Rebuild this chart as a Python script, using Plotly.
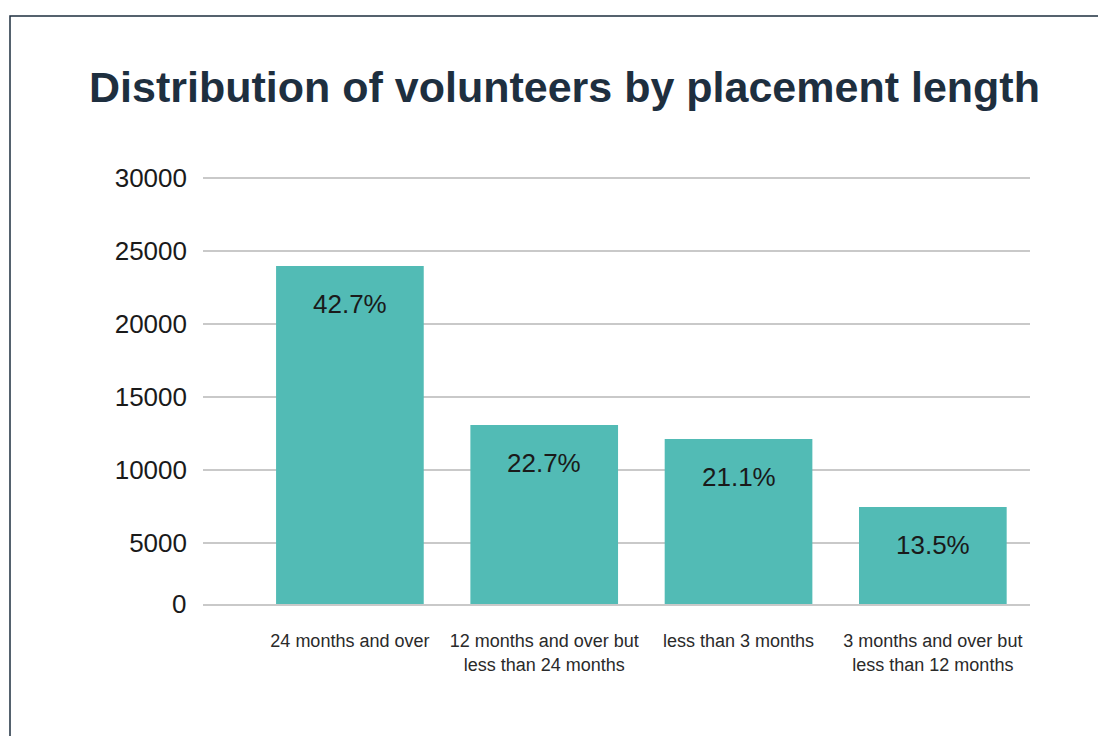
import plotly.graph_objects as go

categories = ["24 months and over",
              "12 months and over but<br>less than 24 months",
              "less than 3 months",
              "3 months and over but<br>less than 12 months"]
values = [23970, 13080, 12120, 7470]
pct_labels = ["42.7%", "22.7%", "21.1%", "13.5%"]
y_ticks = [5000, 10000, 15000, 20000, 25000, 30000]

BAR = "#52bbb5"
GRID = "#c9c9c9"
NAVY = "#1e2f3f"
FONT = "Liberation Sans, Arial, Helvetica, sans-serif"

# page body has an 8px margin: positions below are reference pixels minus 8
W, H = 1098, 728
PL, PT, PW, PH = 195, 166, 827, 430

xpos = list(range(len(categories)))

fig = go.Figure(go.Bar(x=xpos, y=values, marker_color=BAR, width=0.76,
                       marker_line_width=0, hoverinfo="skip"))

for x, v, t in zip(xpos, values, pct_labels):
    fig.add_annotation(x=x, y=v, text=t, showarrow=False, yshift=-38,
                       yanchor="middle", font=dict(size=26, color="#1a1a1a", family=FONT))

fig.add_annotation(xref="paper", yref="paper", x=0, y=0, text="0", showarrow=False,
                   xanchor="right", yanchor="middle", xshift=-15,
                   font=dict(size=26, color="#1a1a1a", family=FONT))

fig.add_shape(type="rect", xref="paper", yref="paper",
              x0=-193 / PW, x1=(1130 - 203) / PW,
              y0=-(770 - 604) / PH, y1=1 + (174 - 8 - 8) / PH,
              line=dict(color=NAVY, width=1.5), fillcolor="rgba(0,0,0,0)", layer="below")

fig.update_layout(
    width=W, height=H,
    margin=dict(l=PL, r=W - PL - PW, t=PT, b=H - PT - PH, pad=0),
    paper_bgcolor="white", plot_bgcolor="white",
    showlegend=False,
    title=dict(text="<b>Distribution of volunteers by placement length</b>",
               x=556.5 / W, xanchor="center", y=1 - 79 / H, yanchor="middle",
               font=dict(size=43, color=NAVY, family=FONT)),
)
fig.update_xaxes(range=[-0.756, 3.5], tickvals=xpos, ticktext=categories,
                 showgrid=False, zeroline=False, showline=True, linecolor=GRID, linewidth=1.5,
                 ticks="", ticklabelstandoff=20,
                 tickfont=dict(size=18, color="#2a2a2a", family=FONT), fixedrange=True)
fig.update_yaxes(range=[822, 30274], tickvals=y_ticks, tickformat="d",
                 showgrid=True, gridcolor=GRID, gridwidth=1.5,
                 zeroline=False, showline=False, ticks="", ticklabelstandoff=15,
                 tickfont=dict(size=26, color="#1a1a1a", family=FONT), fixedrange=True)

fig.write_html("out.html")
